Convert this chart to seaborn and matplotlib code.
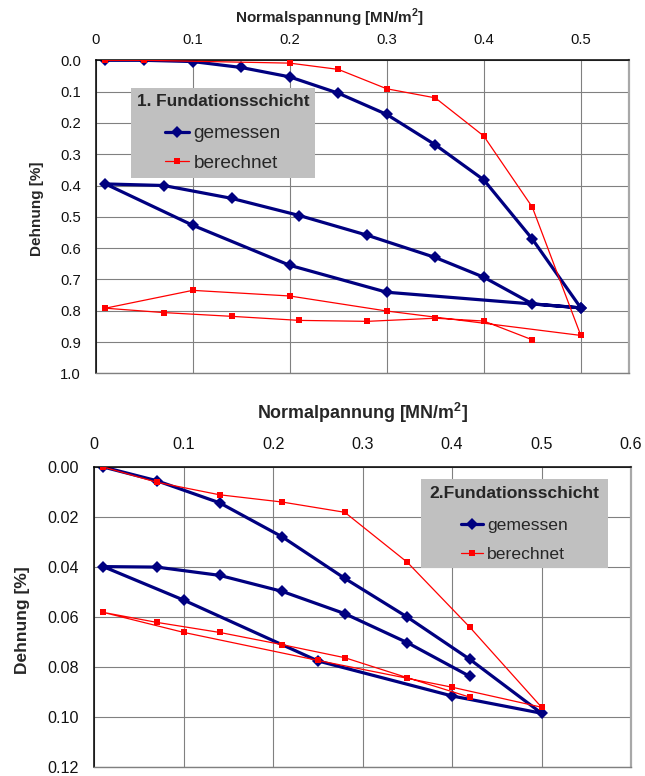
import matplotlib
matplotlib.use("Agg")
import matplotlib.pyplot as plt
import seaborn as sns
from matplotlib.patches import Rectangle

# ---------------- data ----------------
# 1. Fundationsschicht
l1_gem_x = [0.01, 0.05, 0.10, 0.15, 0.20, 0.25, 0.30, 0.35, 0.40, 0.45, 0.50,
            0.30, 0.20, 0.10, 0.01,
            0.07, 0.14, 0.21, 0.28, 0.35, 0.40, 0.45, 0.50]
l1_gem_y = [0.000, 0.000, 0.004, 0.023, 0.053, 0.105, 0.173, 0.270, 0.382, 0.571, 0.791,
            0.741, 0.655, 0.527, 0.395,
            0.400, 0.441, 0.496, 0.559, 0.630, 0.693, 0.778, 0.791]
l1_ber_x = [0.01, 0.05, 0.20, 0.25, 0.30, 0.35, 0.40, 0.45, 0.50,
            0.30, 0.20, 0.10, 0.01,
            0.07, 0.14, 0.21, 0.28, 0.35, 0.40, 0.45]
l1_ber_y = [0.000, 0.000, 0.009, 0.029, 0.091, 0.120, 0.242, 0.469, 0.879,
            0.801, 0.753, 0.735, 0.792,
            0.806, 0.818, 0.831, 0.834, 0.824, 0.833, 0.893]

# 2. Fundationsschicht
l2_gem_x = [0.01, 0.07, 0.14, 0.21, 0.28, 0.35, 0.42, 0.50,
            0.40, 0.25, 0.10, 0.01,
            0.07, 0.14, 0.21, 0.28, 0.35, 0.42]
l2_gem_y = [0.0000, 0.0055, 0.0143, 0.0279, 0.0445, 0.0600, 0.0769, 0.0984,
            0.0915, 0.0775, 0.0532, 0.0398,
            0.0400, 0.0433, 0.0497, 0.0586, 0.0702, 0.0837]
l2_ber_x = [0.01, 0.07, 0.14, 0.21, 0.28, 0.35, 0.42, 0.50,
            0.40, 0.25, 0.10, 0.01,
            0.07, 0.14, 0.21, 0.28, 0.35, 0.42]
l2_ber_y = [0.0000, 0.0061, 0.0111, 0.0140, 0.0181, 0.0381, 0.0641, 0.0960,
            0.0880, 0.0773, 0.0661, 0.0581,
            0.0621, 0.0661, 0.0710, 0.0762, 0.0842, 0.0920]

series_labels = ["gemessen", "berechnet"]
legend_titles = ["1. Fundationsschicht", "2.Fundationsschicht"]
x_titles = ["Normalspannung [MN/m$^\\mathregular{2}$]", "Normalpannung [MN/m$^\\mathregular{2}$]"]
y_title = "Dehnung [%]"

top_xticks = [0, 0.1, 0.2, 0.3, 0.4, 0.5]
top_xticklabels = ["0", "0.1", "0.2", "0.3", "0.4", "0.5"]
top_yticks = [0.0, 0.1, 0.2, 0.3, 0.4, 0.5, 0.6, 0.7, 0.8, 0.9, 1.0]
top_yticklabels = ["0.0", "0.1", "0.2", "0.3", "0.4", "0.5", "0.6", "0.7", "0.8", "0.9", "1.0"]
bot_xticks = [0, 0.1, 0.2, 0.3, 0.4, 0.5, 0.6]
bot_xticklabels = ["0", "0.1", "0.2", "0.3", "0.4", "0.5", "0.6"]
bot_yticks = [0.00, 0.02, 0.04, 0.06, 0.08, 0.10, 0.12]
bot_yticklabels = ["0.00", "0.02", "0.04", "0.06", "0.08", "0.10", "0.12"]

# ---------------- style ----------------
sns.set_style("white")
plt.rcParams["font.family"] = ["Liberation Sans", "DejaVu Sans"]
plt.rcParams["mathtext.fontset"] = "custom"
plt.rcParams["mathtext.rm"] = "Liberation Sans:bold"

NAVY = "#000080"
RED = "#FF0000"
GRID = "#808080"

W, H = 645, 776
fig = plt.figure(figsize=(W / 100, H / 100), dpi=100)


def px_axes(left, top, right, bottom):
    return [left / W, 1 - bottom / H, (right - left) / W, (bottom - top) / H]


ax1 = fig.add_axes(px_axes(95.7, 60.3, 629.3, 373.3))
ax2 = fig.add_axes(px_axes(94.3, 467.0, 631.0, 767.3))


def draw(ax, gx, gy, bx, by):
    sns.lineplot(x=gx, y=gy, ax=ax, sort=False, estimator=None, color=NAVY,
                 lw=2.3, marker="D", markersize=6.3, markeredgewidth=0,
                 label=series_labels[0], zorder=2.5)
    sns.lineplot(x=bx, y=by, ax=ax, sort=False, estimator=None, color=RED,
                 lw=0.9, marker="s", markersize=4.3, markeredgewidth=0,
                 label=series_labels[1], zorder=2.6)


draw(ax1, l1_gem_x, l1_gem_y, l1_ber_x, l1_ber_y)
draw(ax2, l2_gem_x, l2_gem_y, l2_ber_x, l2_ber_y)

configs = [
    (ax1, (0, 0.55), (1.0, 0.0), top_xticks, top_xticklabels, top_yticks, top_yticklabels,
     10.7, 9.5, 6.5, x_titles[0], 11.0, (0.438, 1.135), 11.0, (-0.110, 0.525)),
    (ax2, (0, 0.6), (0.12, 0.0), bot_xticks, bot_xticklabels, bot_yticks, bot_yticklabels,
     11.6, 11.0, 7.0, x_titles[1], 12.9, (0.5, 1.181), 12.5, (-0.133, 0.49)),
]

for (ax, xl, yl, xt, xtl, yt, ytl, tsize, xpad, ypad, xt_title, xts, xlc, yts, ylc) in configs:
    ax.set_xlim(*xl)
    ax.set_ylim(*yl)
    ax.xaxis.tick_top()
    ax.xaxis.set_label_position("top")
    ax.set_xticks(xt)
    ax.set_xticklabels(xtl)
    ax.set_yticks(yt)
    ax.set_yticklabels(ytl)
    ax.grid(True, color=GRID, lw=0.8)
    ax.set_axisbelow(True)
    ax.tick_params(axis="x", length=0, labelsize=tsize, pad=xpad, colors="#111111")
    ax.tick_params(axis="y", direction="inout", length=8, width=0.8, color="black",
                   labelsize=tsize, pad=ypad, labelcolor="#111111")
    for s in ["top", "left"]:
        ax.spines[s].set_color("black")
        ax.spines[s].set_linewidth(1.1)
    ax.spines["right"].set_color("#a8a8a8")
    ax.spines["right"].set_linewidth(1.6)
    ax.spines["bottom"].set_color(GRID)
    ax.spines["bottom"].set_linewidth(1.0)
    ax.set_xlabel(xt_title, fontsize=xts, fontweight="bold")
    ax.xaxis.set_label_coords(*xlc)
    ax.xaxis.label.set_va("center")
    ax.set_ylabel(y_title, fontsize=yts, fontweight="bold")
    ax.yaxis.set_label_coords(*ylc)
    ax.yaxis.label.set_va("center")

# legends with grey boxes
legend_boxes = [(ax1, 131, 87.7, 315, 178.3, 13.7, 12.4, 0.64, 11.5),
                (ax2, 420.7, 479.3, 607.7, 568.3, 12.6, 12.6, 0.75, 12.4)]
for i, (ax, l, t, r, b, lsize, tsize, lsp, tsep) in enumerate(legend_boxes):
    ax.add_patch(Rectangle((l / W, 1 - b / H), (r - l) / W, (b - t) / H,
                           transform=fig.transFigure, facecolor="#c0c0c0",
                           edgecolor="none", zorder=3, clip_on=False))
    handles, labels = ax.get_legend_handles_labels()
    leg = ax.legend(handles, labels, title=legend_titles[i], loc="center",
                    bbox_to_anchor=((l + r) / 2 / W, 1 - (t + b) / 2 / H),
                    bbox_transform=fig.transFigure, frameon=False,
                    prop={"size": lsize}, title_fontproperties={"weight": "bold", "size": tsize},
                    handlelength=1.25, handletextpad=0.25, labelspacing=lsp, borderpad=0.2)
    leg._legend_box.sep = tsep
    leg.set_zorder(5)

fig.savefig("out.png", dpi=100)
